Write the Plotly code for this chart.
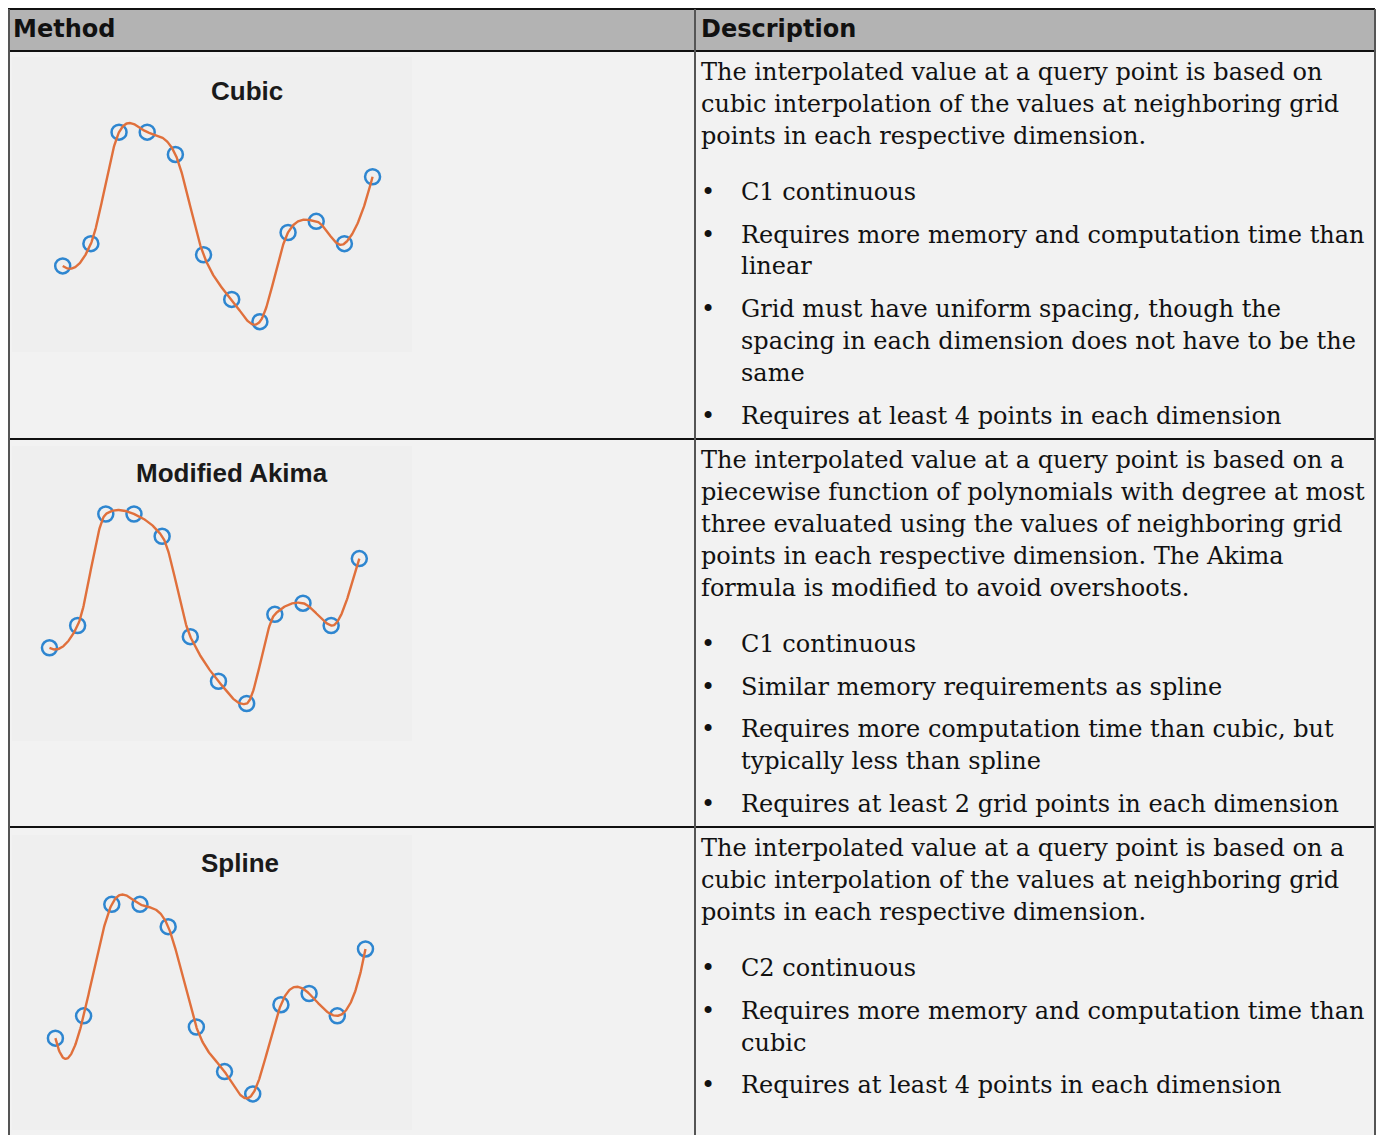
import numpy as np
import plotly.graph_objects as go

W, H = 1384, 1135
OX, OY = 8, 8  # page body margin offset

# ---------------- data ----------------
methods = ["Cubic", "Modified Akima", "Spline"]
x_pts = [1, 2, 3, 4, 5, 6, 7, 8, 9, 10, 11, 12]
y_pts = [2.5, 3.5, 8.5, 8.5, 7.5, 3.0, 1.0, 0.0, 4.0, 4.5, 3.5, 6.5]

header_labels = ["Method", "Description"]

desc_paragraphs = [
    ["The interpolated value at a query point is based on",
     "cubic interpolation of the values at neighboring grid",
     "points in each respective dimension."],
    ["The interpolated value at a query point is based on a",
     "piecewise function of polynomials with degree at most",
     "three evaluated using the values of neighboring grid",
     "points in each respective dimension. The Akima",
     "formula is modified to avoid overshoots."],
    ["The interpolated value at a query point is based on a",
     "cubic interpolation of the values at neighboring grid",
     "points in each respective dimension."],
]
desc_bullets = [
    [["C1 continuous"],
     ["Requires more memory and computation time than", "linear"],
     ["Grid must have uniform spacing, though the",
      "spacing in each dimension does not have to be the", "same"],
     ["Requires at least 4 points in each dimension"]],
    [["C1 continuous"],
     ["Similar memory requirements as spline"],
     ["Requires more computation time than cubic, but", "typically less than spline"],
     ["Requires at least 2 grid points in each dimension"]],
    [["C2 continuous"],
     ["Requires more memory and computation time than", "cubic"],
     ["Requires at least 4 points in each dimension"]],
]

# ---------------- interpolation methods ----------------
xa = np.array(x_pts, float)
ya = np.array(y_pts, float)
n = len(xa)


def hermite(slopes, xq):
    out = np.empty_like(xq)
    for k, xv in enumerate(xq):
        i = min(int(np.floor(xv - xa[0])), n - 2)
        h = xa[i + 1] - xa[i]
        t = (xv - xa[i]) / h
        h00 = 2 * t**3 - 3 * t**2 + 1
        h10 = t**3 - 2 * t**2 + t
        h01 = -2 * t**3 + 3 * t**2
        h11 = t**3 - t**2
        out[k] = h00 * ya[i] + h10 * h * slopes[i] + h01 * ya[i + 1] + h11 * h * slopes[i + 1]
    return out


def cubic_conv_slopes():
    ext = np.concatenate([[3 * ya[0] - 3 * ya[1] + ya[2]], ya,
                          [3 * ya[-1] - 3 * ya[-2] + ya[-3]]])
    return (ext[2:] - ext[:-2]) / 2.0


def makima_slopes():
    d = np.diff(ya)
    dm1 = 2 * d[0] - d[1]
    dm2 = 2 * dm1 - d[0]
    dn = 2 * d[-1] - d[-2]
    dn1 = 2 * dn - d[-1]
    e = np.concatenate([[dm2, dm1], d, [dn, dn1]])
    s = np.empty(n)
    for i in range(n):
        a, b, c, dd = e[i], e[i + 1], e[i + 2], e[i + 3]
        w1 = abs(dd - c) + abs(dd + c) / 2
        w2 = abs(b - a) + abs(b + a) / 2
        s[i] = c if (w1 + w2) == 0 else (w1 * b + w2 * c) / (w1 + w2)
    return s


def spline_eval(xq):
    A = np.zeros((n, n))
    r = np.zeros(n)
    A[0, 0], A[0, 1], A[0, 2] = 1, -2, 1
    A[-1, -3], A[-1, -2], A[-1, -1] = 1, -2, 1
    for i in range(1, n - 1):
        A[i, i - 1], A[i, i], A[i, i + 1] = 1, 4, 1
        r[i] = 6 * (ya[i + 1] - 2 * ya[i] + ya[i - 1])
    M = np.linalg.solve(A, r)
    out = np.empty_like(xq)
    for k, xv in enumerate(xq):
        i = min(int(np.floor(xv - xa[0])), n - 2)
        t = xv - xa[i]
        b = (ya[i + 1] - ya[i]) - (2 * M[i] + M[i + 1]) / 6
        out[k] = ya[i] + b * t + M[i] / 2 * t**2 + (M[i + 1] - M[i]) / 6 * t**3
    return out


xq = np.linspace(xa[0], xa[-1], 600)
curves = [hermite(cubic_conv_slopes(), xq), hermite(makima_slopes(), xq), spline_eval(xq)]

# ---------------- layout helpers (page pixel -> paper fraction) ----------------
def px(x):
    return (x - OX) / W


def py(y):
    return 1 - (y - OY) / H


fig = go.Figure()

ROW_TOPS = [51, 439, 827]
IMG_BOX = [(12, 57, 412, 352), (12, 446, 412, 741), (12, 835, 412, 1130)]
X_RANGES = [(-0.80, 13.40), (-0.33, 13.87), (-0.54, 13.65)]
Y_RANGES = [(-1.36, 11.87), (-1.68, 11.55), (-1.62, 11.61)]
TITLE_Y = [91, 473, 863]
TITLE_X = [247, 232, 240]

LEFT, RIGHT, TOP = 9, 1375, 9

shapes = []
shapes.append(dict(type="rect", xref="paper", yref="paper", x0=px(LEFT), x1=px(RIGHT),
                   y0=py(TOP), y1=py(51), fillcolor="#b3b3b3", line_width=0, layer="below"))
shapes.append(dict(type="rect", xref="paper", yref="paper", x0=px(LEFT), x1=px(RIGHT),
                   y0=py(51), y1=py(H + 20), fillcolor="#f2f2f2", line_width=0, layer="below"))
for (x0, y0, x1, y1) in IMG_BOX:
    shapes.append(dict(type="rect", xref="paper", yref="paper", x0=px(x0), x1=px(x1),
                       y0=py(y1), y1=py(y0), fillcolor="#efefef", line_width=0, layer="below"))
for yy in [TOP, 51, 439, 827]:
    shapes.append(dict(type="line", xref="paper", yref="paper", x0=px(LEFT - 1), x1=px(RIGHT),
                       y0=py(yy), y1=py(yy), line=dict(color="#111111", width=2)))
for xx in [LEFT, 695, RIGHT]:
    shapes.append(dict(type="line", xref="paper", yref="paper", x0=px(xx), x1=px(xx),
                       y0=py(TOP), y1=py(H + 20), line=dict(color="#555555", width=2)))

annotations = []
HDR_FONT = dict(family="DejaVu Sans", size=24, color="#111111")
annotations.append(dict(text="<b>" + header_labels[0] + "</b>", x=px(11), y=py(29),
                        xref="paper", yref="paper", xanchor="left", yanchor="middle",
                        showarrow=False, font=HDR_FONT))
annotations.append(dict(text="<b>" + header_labels[1] + "</b>", x=px(699), y=py(29),
                        xref="paper", yref="paper", xanchor="left", yanchor="middle",
                        showarrow=False, font=HDR_FONT))

TXT_FONT = dict(family="DejaVu Serif", size=24, color="#111111")
for r in range(3):
    yy = ROW_TOPS[r] + 21
    for line in desc_paragraphs[r]:
        annotations.append(dict(text=line, x=px(699), y=py(yy), xref="paper", yref="paper",
                                xanchor="left", yanchor="middle", showarrow=False, font=TXT_FONT))
        yy += 32
    yy += 24
    for bi, bullet in enumerate(desc_bullets[r]):
        if bi > 0:
            yy += 10.5
        annotations.append(dict(text="•", x=px(708), y=py(yy), xref="paper", yref="paper",
                                xanchor="center", yanchor="middle", showarrow=False, font=TXT_FONT))
        for line in bullet:
            annotations.append(dict(text=line, x=px(739), y=py(yy), xref="paper", yref="paper",
                                    xanchor="left", yanchor="middle", showarrow=False, font=TXT_FONT))
            yy += 32

for r in range(3):
    annotations.append(dict(text="<b>" + methods[r] + "</b>", x=px(TITLE_X[r]), y=py(TITLE_Y[r]),
                            xref="paper", yref="paper", xanchor="center", yanchor="middle",
                            showarrow=False,
                            font=dict(family="Liberation Sans, Arial", size=26, color="#1a1a1a")))

for r in range(3):
    sfx = "" if r == 0 else str(r + 1)
    x0, y0, x1, y1 = IMG_BOX[r]
    fig.add_trace(go.Scatter(x=x_pts, y=y_pts, mode="markers", xaxis="x" + sfx, yaxis="y" + sfx,
                             marker=dict(symbol="circle-open", size=15, color="#2e86d0",
                                         line=dict(color="#2e86d0", width=2.5)),
                             showlegend=False))
    fig.add_trace(go.Scatter(x=xq, y=curves[r], mode="lines", xaxis="x" + sfx, yaxis="y" + sfx,
                             line=dict(color="#e0703c", width=2.4), showlegend=False,
                             hoverinfo="skip"))
    fig.layout["xaxis" + sfx] = dict(domain=[px(x0), px(x1)], range=list(X_RANGES[r]),
                                     visible=False, fixedrange=True, anchor="y" + sfx)
    fig.layout["yaxis" + sfx] = dict(domain=[py(y1), py(y0)], range=list(Y_RANGES[r]),
                                     visible=False, fixedrange=True, anchor="x" + sfx)

fig.update_layout(width=W, height=H, margin=dict(l=0, r=0, t=0, b=0),
                  paper_bgcolor="white", plot_bgcolor="rgba(0,0,0,0)",
                  shapes=shapes, annotations=annotations)

fig.write_html("out.html")
